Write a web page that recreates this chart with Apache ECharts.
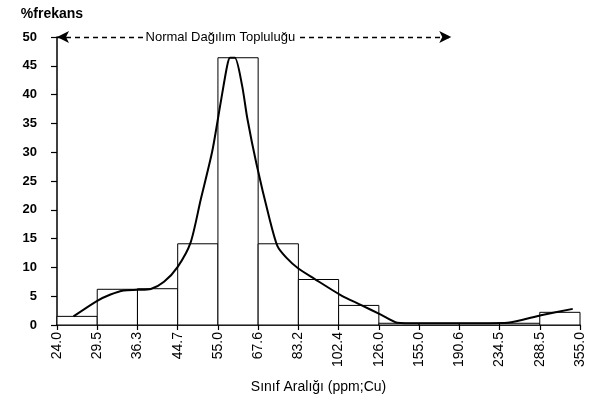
<!DOCTYPE html>
<html>
<head>
<meta charset="utf-8">
<script src="https://cdn.jsdelivr.net/npm/echarts@6/dist/echarts.min.js"></script>
<style>html,body{margin:0;padding:0;background:#fff}#c{width:590px;height:399px}</style>
</head>
<body>
<div id="c"></div>
<script>
// Class boundaries (tick labels)
const tickLabels = ['24.0','29.5','36.3','44.7','55.0','67.6','83.2','102.4','126.0','155.0','190.6','234.5','288.5','355.0'];
// Histogram frequencies (%) per class interval
const binFreq = [1.5, 6.2, 6.3, 14.1, 46.4, 14.1, 7.9, 3.4, 0.3, 0.3, 0.3, 0.3, 2.2];
// Fitted curve, x in class-index units
const curveX = [0.41, 1.0, 1.33, 1.66, 2.0, 2.33, 2.66, 3.0, 3.32, 3.57, 3.86, 4.07, 4.23, 4.3, 4.42, 4.6, 4.73, 4.96, 5.27, 5.48, 5.7, 6.0, 6.39, 7.05, 7.55, 8.05, 8.46, 9.0, 10.0, 11.2, 12.03, 12.82];
const curveY = [1.5, 4.2, 5.3, 6.0, 6.1, 6.25, 7.5, 10.1, 14.3, 21.7, 30.2, 38.7, 45.0, 46.4, 46.4, 41.6, 35.9, 27.9, 18.8, 13.7, 11.7, 9.8, 8.06, 5.2, 3.5, 1.8, 0.4, 0.3, 0.3, 0.4, 1.7, 2.8];
const annText = 'Normal Dağılım Topluluğu';
const annStart = 0, annEnd = 9.8, annLevel = 50, annTextX = 4.06;

const chart = echarts.init(document.getElementById('c'));
const font = '"Liberation Sans", Arial, sans-serif';
chart.setOption({
  animation: false,
  backgroundColor: '#fff',
  grid: {left: 57, right: 10, top: 37, bottom: 71},
  xAxis: {
    type: 'value', min: 0, max: 13, interval: 1,
    name: 'Sınıf Aralığı (ppm;Cu)', nameLocation: 'middle', nameGap: 55,
    nameTextStyle: {fontFamily: font, fontSize: 14, color: '#000'},
    axisLine: {lineStyle: {color: '#000', width: 1.5}},
    axisTick: {show: true, length: 5, lineStyle: {color: '#000', width: 1.2}},
    splitLine: {show: false},
    axisLabel: {rotate: 90, margin: 7, fontFamily: font, fontSize: 14, color: '#000',
      formatter: v => tickLabels[Math.round(v)] || ''}
  },
  yAxis: {
    type: 'value', min: 0, max: 50, interval: 5,
    name: '%frekans', nameLocation: 'end', nameGap: 16,
    nameTextStyle: {fontFamily: font, fontSize: 14, fontWeight: 'bold', color: '#000', align: 'center', padding: [0, 10, 0, 0]},
    axisLine: {show: true, lineStyle: {color: '#000', width: 1.5}},
    axisTick: {show: true, inside: false, length: 6, lineStyle: {color: '#000', width: 1.2}},
    splitLine: {show: false},
    axisLabel: {margin: 20, fontFamily: font, fontSize: 13, fontWeight: 'bold', color: '#000'}
  },
  series: [
    {
      type: 'custom',
      data: binFreq.map((v, i) => [i, v]),
      encode: {x: 0, y: 1},
      renderItem: function (params, api) {
        const i = api.value(0), v = api.value(1);
        const p0 = api.coord([i, 0]);
        const p1 = api.coord([i + 1, v]);
        return {type: 'rect', shape: {x: p0[0], y: p1[1], width: p1[0] - p0[0], height: p0[1] - p1[1]},
          style: {fill: '#fff', stroke: '#000', lineWidth: 1}};
      },
      z: 1
    },
    {
      type: 'line',
      data: curveX.map((x, i) => [x, curveY[i]]),
      smooth: 0.25,
      symbol: 'none',
      lineStyle: {color: '#000', width: 2},
      z: 3,
      markLine: {
        silent: true,
        symbol: ['arrow', 'arrow'],
        symbolSize: [9, 12],
        lineStyle: {color: '#000', type: [5, 4], width: 1.3},
        label: {show: false},
        data: [[{coord: [annStart, annLevel]}, {coord: [annEnd, annLevel]}]]
      },
      markPoint: {
        silent: true,
        symbol: 'rect', symbolSize: [1, 1],
        itemStyle: {color: 'rgba(0,0,0,0)'},
        label: {show: true, position: 'inside', formatter: annText, fontFamily: font, fontSize: 13,
          color: '#000', backgroundColor: '#fff', padding: [1, 2]},
        data: [{coord: [annTextX, annLevel]}]
      }
    }
  ]
});
</script>
</body>
</html>
